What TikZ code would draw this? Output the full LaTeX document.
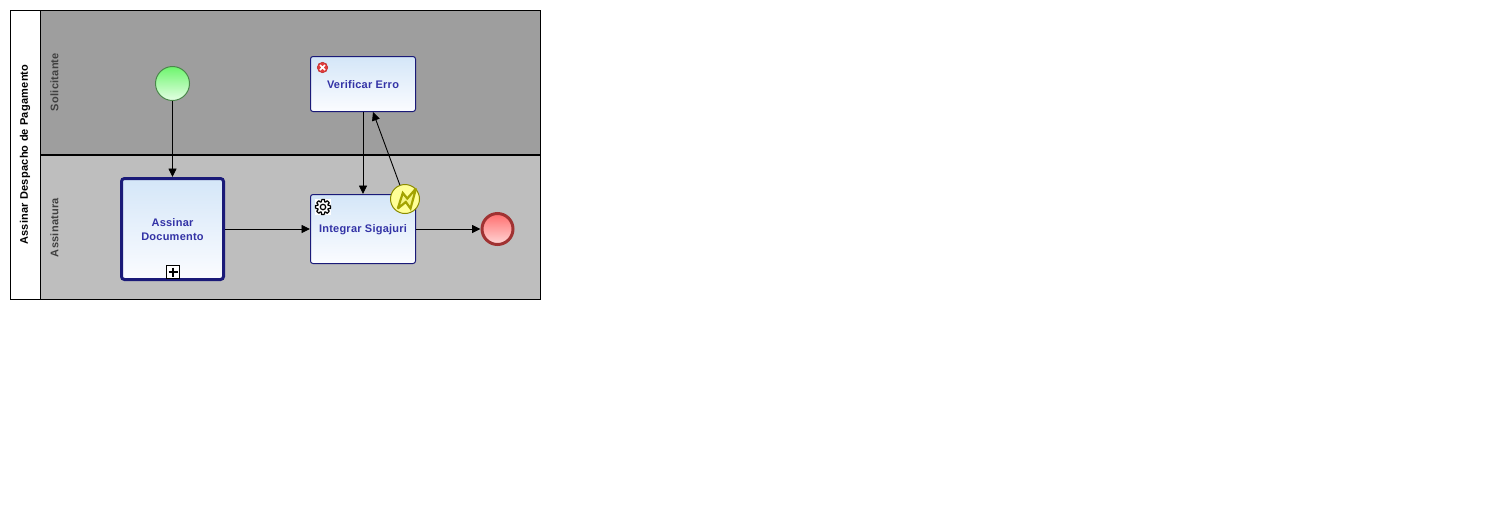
\documentclass[tikz,border=0pt]{standalone}
\usepackage{fontspec}
\setmainfont{Liberation Sans}[LetterSpace=2.2]
\usetikzlibrary{arrows.meta}
\definecolor{laneA}{HTML}{9E9E9E}
\definecolor{laneB}{HTML}{BEBEBE}
\definecolor{taskline}{HTML}{1A1A78}
\definecolor{tasktext}{HTML}{3333A6}
\definecolor{tasktop}{HTML}{D4E6F8}
\definecolor{taskbot}{HTML}{FBFCFF}
\definecolor{lanetext}{HTML}{404040}
\definecolor{olivec}{HTML}{A3A300}
\definecolor{starttop}{HTML}{6DF56D}
\definecolor{startbot}{HTML}{E4FFE4}
\tikzset{
 x=1pt,y=-1pt,
 lab/.style={font=\fontsize{11}{14}\selectfont\bfseries},
 lanelab/.style={lab,text=lanetext,rotate=90},
 tasktxt/.style={lab,text=tasktext,align=center,inner sep=0pt},
 taskbox/.style={draw=taskline,line width=1pt,rounded corners=2.5pt,top color=tasktop,bottom color=taskbot,minimum width=#1,inner sep=0pt},
 flow/.style={draw=black,line width=0.9pt,-{Triangle[length=8.5pt,width=8pt]}},
}
\begin{document}
\begin{tikzpicture}
\useasboundingbox[fill=white] (0,0) rectangle (1501,531);
% pool and lanes
\fill[laneA] (40.5,10.5) rectangle (540.5,155);
\fill[laneB] (40.5,155) rectangle (540.5,299.5);
\draw[black,line width=1pt] (10.5,10.5) rectangle (540.5,299.5);
\draw[black,line width=1pt] (40.5,10.5) -- (40.5,299.5);
\draw[black,line width=2pt] (40.5,155) -- (541,155);
\node[lab,rotate=90] (pool) at (25,154.5) {Assinar Despacho de Pagamento};
\node[lanelab] (solic) at (54.5,82) {Solicitante};
\node[lanelab] (assin) at (54.5,227.5) {Assinatura};
% nodes
\node[circle,draw={rgb,255:red,75;green,135;blue,75},line width=1pt,top color=starttop,bottom color=startbot,minimum size=34pt,inner sep=0pt] (start) at (172.5,83.5) {};
\node[draw=taskline,line width=3pt,rounded corners=3pt,top color=tasktop,bottom color=taskbot,minimum width=102pt,minimum height=101pt,inner sep=0pt] (doc) at (172.5,229) {};
\node[tasktxt] (doctxt) at (172.5,229.5) {Assinar\\Documento};
\node[taskbox=105pt,minimum height=55pt] (ver) at (363,84) {};
\node[tasktxt] (vertxt) at (363,84.5) {Verificar Erro};
\node[taskbox=105pt,minimum height=69pt] (int) at (363,229) {};
\node[tasktxt] (inttxt) at (363,230) {Integrar Sigajuri};
\node[circle,draw={rgb,255:red,160;green,50;blue,50},line width=3pt,top color={rgb,255:red,255;green,110;blue,110},bottom color={rgb,255:red,255;green,215;blue,215},minimum size=31pt,inner sep=0pt] (end) at (497.5,229) {};
\node[circle,draw=olivec!85!black,line width=1pt,fill={rgb,255:red,255;green,255;blue,150},minimum size=29pt,inner sep=0pt] (bnd) at (405,199) {};
\draw[olivec,line width=2.2pt,line join=miter,miter limit=3,fill={rgb,255:red,245;green,245;blue,130}] (397.8,208.5) -- (402.8,193) -- (407.3,198.5) -- (416,188.5) -- (410.5,208.5) -- (405.8,202) -- cycle;
% marker: collapsed subprocess
\node[draw=black,line width=1pt,fill=white,minimum size=13pt,inner sep=0pt] (plus) at (173,272) {};
\draw[black,line width=1.8pt] (168.5,272) -- (177.5,272) (173,267.5) -- (173,276.5);
% marker: error
\node[circle,fill={rgb,255:red,225;green,60;blue,60},draw={rgb,255:red,190;green,50;blue,50},line width=0.6pt,minimum size=10.5pt,inner sep=0pt] (err) at (322.5,67.5) {};
\draw[white,line width=1.6pt] (320,65) -- (325,70) (320,70) -- (325,65);
% marker: service gear
\fill[white] (315,199) rectangle (331,215);
\draw[black,line width=1.2pt,line join=round]
 \foreach \a in {0,45,...,315} {
  ({323+7.6*cos(\a-11)},{207+7.6*sin(\a-11)}) -- ({323+7.6*cos(\a+11)},{207+7.6*sin(\a+11)}) -- ({323+5.4*cos(\a+18)},{207+5.4*sin(\a+18)}) -- ({323+5.4*cos(\a+27)},{207+5.4*sin(\a+27)}) -- ({323+7.6*cos(\a+34)},{207+7.6*sin(\a+34)})
 };
\draw[black,line width=1.2pt] (323,207) circle[radius=2.7];
% connectors
\coordinate (vertarget) at (373,112);
\draw[flow] (start) -- (doc);
\draw[flow] (doc) -- (int);
\draw[flow] (int) -- (end);
\draw[flow] (ver) -- (int);
\draw[flow] (bnd) -- (vertarget);
\end{tikzpicture}
\end{document}
